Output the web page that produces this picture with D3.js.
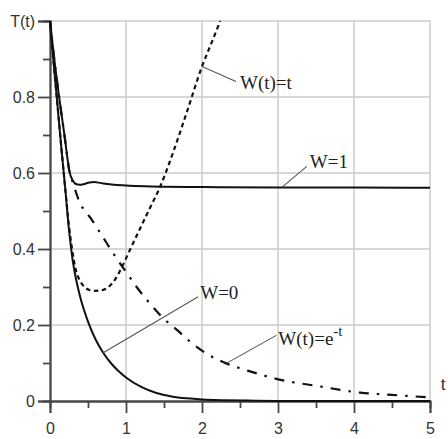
<!DOCTYPE html>
<html>
<head>
<meta charset="utf-8">
<script src="https://cdn.jsdelivr.net/npm/d3@7"></script>
<style>
  body { margin: 0; background: #fff; }
  svg { display: block; }
</style>
</head>
<body>
<script>
// curves: time t and temperature T(t)
var tW0 = [0, 0.05, 0.1, 0.15, 0.2, 0.25, 0.276, 0.3, 0.35, 0.4, 0.45, 0.5, 0.6, 0.7, 0.8, 0.9, 1.0, 1.2, 1.4, 1.6, 1.8, 2.0, 2.3, 2.6, 3, 4, 5];
var TW0 = [1, 0.885, 0.775, 0.665, 0.56, 0.45, 0.405, 0.368, 0.314, 0.272, 0.238, 0.209, 0.162, 0.127, 0.1, 0.079, 0.062, 0.037, 0.021, 0.012, 0.007, 0.004, 0.002, 0.001, 0.0003, 0, 0];

var tW1 = [0, 0.05, 0.12, 0.19, 0.26, 0.3, 0.34, 0.39, 0.45, 0.52, 0.58, 0.66, 0.75, 0.85, 1.0, 1.25, 1.5, 2, 3, 4, 5];
var TW1 = [1, 0.91, 0.8, 0.7, 0.6, 0.58, 0.571, 0.569, 0.571, 0.575, 0.576, 0.574, 0.571, 0.569, 0.567, 0.565, 0.564, 0.563, 0.562, 0.562, 0.561];

var tWt = [0, 0.05, 0.1, 0.15, 0.2, 0.25, 0.29, 0.34, 0.39, 0.44, 0.52, 0.59, 0.67, 0.75, 0.85, 0.94, 1.05, 1.2, 1.32, 1.447, 1.63, 1.8, 2.0, 2.12, 2.24];
var TWt = [1, 0.885, 0.775, 0.665, 0.56, 0.46, 0.4, 0.345, 0.318, 0.303, 0.292, 0.29, 0.291, 0.297, 0.318, 0.35, 0.397, 0.46, 0.51, 0.563, 0.66, 0.76, 0.88, 0.94, 1.0];

var tWe = [0, 0.05, 0.12, 0.19, 0.26, 0.3, 0.34, 0.39, 0.46, 0.54, 0.62, 0.69, 0.78, 0.86, 1.0, 1.14, 1.3, 1.49, 1.67, 1.85, 2.04, 2.32, 2.6, 3.05, 3.5, 4.08, 4.5, 4.96];
var TWe = [1, 0.91, 0.8, 0.7, 0.6, 0.575, 0.55, 0.523, 0.5, 0.48, 0.455, 0.433, 0.405, 0.38, 0.34, 0.30, 0.26, 0.218, 0.187, 0.155, 0.127, 0.099, 0.08, 0.055, 0.04, 0.022, 0.016, 0.01];

var xTicks = [0, 1, 2, 3, 4, 5];
var xMinor = [0.5, 1.5, 2.5, 3.5, 4.5];
var yTicks = [0, 0.2, 0.4, 0.6, 0.8, 1.0];
var yMinor = [0.1, 0.3, 0.5, 0.7, 0.9];

var width = 448, height = 439;

var svg = d3.select("body").append("svg")
    .attr("width", width)
    .attr("height", height);

var x = d3.scaleLinear().domain([0, 5]).range([50, 430]);
var y = d3.scaleLinear().domain([0, 1]).range([401, 21]);

// grid
svg.append("g").selectAll("line")
    .data(xTicks.slice(1))
  .enter().append("line")
    .attr("x1", function(d) { return x(d); })
    .attr("x2", function(d) { return x(d); })
    .attr("y1", y(0)).attr("y2", y(1))
    .style("stroke", "#cbcbcb").style("stroke-width", 1.5);

svg.append("g").selectAll("line")
    .data(yTicks.slice(1))
  .enter().append("line")
    .attr("x1", x(0)).attr("x2", x(5))
    .attr("y1", function(d) { return y(d); })
    .attr("y2", function(d) { return y(d); })
    .style("stroke", "#cbcbcb").style("stroke-width", 1.5);

// axes
var axisColor = "#474747";

svg.append("g")
    .attr("transform", "translate(" + x(0) + ",0)")
    .call(d3.axisLeft(y).tickValues(yTicks).tickSize(12).tickPadding(3)
      .tickFormat(function(d) { return d === 1 ? "T(t)" : String(+d.toFixed(1)); }));
svg.append("g")
    .attr("transform", "translate(" + x(0) + ",0)")
    .call(d3.axisLeft(y).tickValues(yMinor).tickSize(7).tickFormat(""));

svg.append("g")
    .attr("transform", "translate(0," + y(0) + ")")
    .call(d3.axisBottom(x).tickValues(xTicks).tickSize(12).tickPadding(10).tickFormat(d3.format("d")));
svg.append("g")
    .attr("transform", "translate(0," + y(0) + ")")
    .call(d3.axisBottom(x).tickValues(xMinor).tickSize(7).tickFormat(""));

svg.selectAll(".domain, .tick line")
    .style("stroke", axisColor).style("stroke-width", 1.8);
svg.selectAll(".tick text")
    .style("font-family", "'Liberation Sans', Arial, sans-serif")
    .style("font-size", "16px")
    .style("fill", "#333");

svg.append("text")
    .attr("x", 443).attr("y", 390)
    .attr("text-anchor", "middle")
    .style("font-family", "'Liberation Sans', Arial, sans-serif")
    .style("font-size", "17px")
    .style("fill", "#333")
    .text("t");

// curves
var line = d3.line()
    .x(function(d) { return x(d[0]); })
    .y(function(d) { return y(d[1]); })
    .curve(d3.curveMonotoneX);

var series = [
  {t: tW0, T: TW0, dash: null},
  {t: tW1, T: TW1, dash: null},
  {t: tWt, T: TWt, dash: "4.5,3.5"},
  {t: tWe, T: TWe, dash: "10,8,2.5,8"}
];

svg.append("g").selectAll("path")
    .data(series)
  .enter().append("path")
    .attr("d", function(s) { return line(d3.zip(s.t, s.T)); })
    .style("fill", "none")
    .style("stroke", "#111")
    .style("stroke-width", function(s) { return s.dash ? 2.2 : 2; })
    .style("stroke-dasharray", function(s) { return s.dash; });

// labels with leader lines: anchor on the curve, offsets in px
var notes = [
  {t: 2.0, T: 0.88, lx: 34, ly: 15, tx: 38, ty: 22.5, text: "W(t)=t"},
  {t: 3.05, T: 0.562, lx: 25, ly: -21, tx: 28, ty: -19.5, text: "W=1"},
  {t: 0.7, T: 0.127, lx: 95, ly: -56, tx: 97, ty: -53.5, text: "W=0"},
  {t: 2.32, T: 0.099, lx: 50, ly: -28, tx: 52, ty: -18, text: "W(t)=e", sup: "-t"}
];

var note = svg.append("g").selectAll("g")
    .data(notes)
  .enter().append("g")
    .attr("transform", function(d) { return "translate(" + x(d.t) + "," + y(d.T) + ")"; });

note.append("line")
    .attr("x1", 0).attr("y1", 0)
    .attr("x2", function(d) { return d.lx; })
    .attr("y2", function(d) { return d.ly; })
    .style("stroke", "#555").style("stroke-width", 1.1);

var label = note.append("text")
    .attr("x", function(d) { return d.tx; })
    .attr("y", function(d) { return d.ty; })
    .style("font-family", "'Liberation Serif', 'Times New Roman', serif")
    .style("font-size", "19px")
    .style("fill", "#222")
    .text(function(d) { return d.text; });

label.filter(function(d) { return d.sup; })
  .append("tspan")
    .attr("dy", -9)
    .style("font-size", "15px")
    .text(function(d) { return d.sup; });
</script>
</body>
</html>
